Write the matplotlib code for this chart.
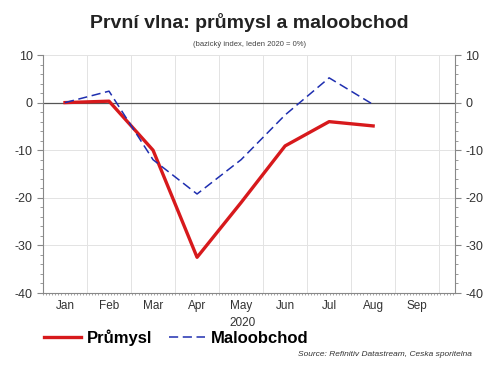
import matplotlib.pyplot as plt
import numpy as np
from matplotlib.ticker import MultipleLocator, FixedLocator

plt.rcParams['font.family'] = ['Liberation Sans', 'DejaVu Sans']
plt.rcParams['axes.unicode_minus'] = False

# --- data ---
months = ['Jan', 'Feb', 'Mar', 'Apr', 'May', 'Jun', 'Jul', 'Aug', 'Sep']
prumysl = [0.0, 0.3, -10.0, -32.5, -21.0, -9.1, -4.0, -4.9]
maloobchod = [0.0, 2.4, -12.0, -19.2, -12.0, -2.6, 5.2, -0.4]

x = np.arange(len(prumysl))

fig = plt.figure(figsize=(4.98, 3.69), dpi=100)
ax = fig.add_axes([43 / 498, 1 - 293 / 369, 412 / 498, 238 / 369])

ax.plot(x, prumysl, color='#d7191c', lw=2.4, label='Průmysl')
ax.plot(x, maloobchod, color='#1f2fb0', lw=1.1, ls=(0, (6, 3)), label='Maloobchod')
ax.axhline(0, color='#555555', lw=0.9, zorder=1)

ax.set_xlim(-0.5, 8.86)
ax.set_ylim(-40, 10)
ax.set_xticks(np.arange(len(months)))
ax.set_xticklabels(months, fontsize=8.5, color='#333333')
ax.xaxis.set_minor_locator(FixedLocator(np.arange(-0.5, 8.86, 0.07)))
ax.yaxis.set_major_locator(MultipleLocator(10))
ax.yaxis.set_minor_locator(MultipleLocator(2))
ax.tick_params(axis='x', which='major', length=0, pad=5)
ax.tick_params(axis='x', which='minor', length=1.5, color='#999999')
ax.tick_params(axis='y', which='both', labelsize=9, colors='#333333',
               left=True, right=True, labelleft=True, labelright=True)
ax.tick_params(axis='y', which='major', length=4, color='#888888')
ax.tick_params(axis='y', which='minor', length=2, color='#888888')

# grid
for k in np.arange(0.5, 8.6, 1):
    ax.axvline(k, color='#e3e3e3', lw=0.7, zorder=0)
for v in [-30, -20, -10, 10]:
    ax.axhline(v, color='#e3e3e3', lw=0.7, zorder=0)

for s in ['left', 'right', 'bottom']:
    ax.spines[s].set_color('#888888')
    ax.spines[s].set_linewidth(0.8)
ax.spines['top'].set_visible(False)

fig.text(0.5, 1 - 23 / 369, 'První vlna: průmysl a maloobchod', ha='center',
         va='center', fontsize=14, fontweight='bold', color='#222222')
fig.text(0.5, 1 - 45 / 369, '(bazický index, leden 2020 = 0%)', ha='center',
         va='center', fontsize=5.5, color='#444444')
fig.text(243 / 498, 1 - 322.5 / 369, '2020', ha='center', va='center',
         fontsize=8.5, color='#333333')

fig.legend(loc='center left', bbox_to_anchor=(44 / 498, 1 - 338 / 369), ncol=2,
           frameon=False, prop={'size': 12, 'weight': 'bold'},
           handlelength=2.2, columnspacing=1.0, handletextpad=0.35, borderaxespad=0,
           borderpad=0)

fig.text(472 / 498, 1 - 355 / 369, 'Source: Refinitiv Datastream, Ceska sporitelna',
         ha='right', va='center', fontsize=6, style='italic', color='#333333')

fig.savefig('out.png', dpi=100)
